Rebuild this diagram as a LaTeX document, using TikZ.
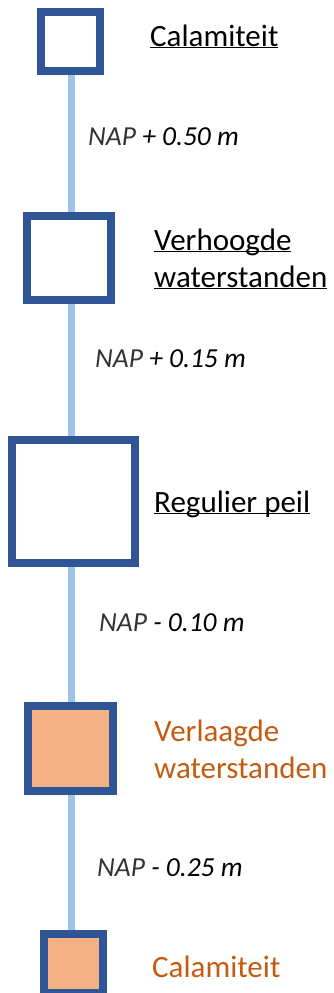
\documentclass[tikz,border=0pt]{standalone}
\usepackage{fontspec}
\setmainfont{Carlito}
\usetikzlibrary{backgrounds}

\definecolor{levelblue}{HTML}{2F5597}
\definecolor{spineblue}{HTML}{9DC3E6}
\definecolor{lowfill}{HTML}{F4B183}
\definecolor{lowtext}{HTML}{C55A11}
\definecolor{napgray}{HTML}{333333}

\newcommand\levelul[1]{\underline{\smash{#1}}}

\tikzset{
  levelbox/.style={draw=levelblue, line width=8pt, fill=white, minimum size=#1, inner sep=0pt},
  lowbox/.style={levelbox=#1, fill=lowfill},
  levellabel/.style={anchor=base west, inner sep=0pt, align=left, font=\fontsize{31}{37}\selectfont},
  naplabel/.style={anchor=base west, inner sep=0pt, font=\fontsize{27.5}{30}\selectfont\itshape},
  spine/.style={draw=spineblue, line width=7pt}
}

\begin{document}
\begin{tikzpicture}[x=1pt, y=-1pt]
\useasboundingbox (0,0) rectangle (333,993);

% Boxes
\node (cal1) at ( 70.5, 41.5 ) [levelbox=59pt] {};
\node (verh) at ( 69, 257.5 ) [levelbox=84pt] {};
\node (reg) at ( 73.5, 501 ) [levelbox=123pt] {};
\node (verl) at ( 70.5, 748.5 ) [lowbox=85pt] {};
\node (cal2) at ( 73.5, 963.5 ) [lowbox=59pt] {};

% Spine
\coordinate (axis) at ( 71, 0 );
\begin{scope}[on background layer]
\draw [spine] (cal1 -| axis) -- (verh -| axis);
\draw [spine] (verh -| axis) -- (reg -| axis);
\draw [spine] (reg -| axis) -- (verl -| axis);
\draw [spine] (verl -| axis) -- (cal2 -| axis);
\end{scope}

% Labels
\node (lcal1) at ( 150, 46 ) [levellabel] {\levelul{Calamiteit}};
\node (lverh) at ( 154, 287 ) [levellabel] {\levelul{Verhoogde}\\\levelul{waterstanden}};
\node (lreg) at ( 154, 512 ) [levellabel] {\levelul{Regulier peil}};
\node (lverl) at ( 154, 778 ) [levellabel, text=lowtext] {Verlaagde\\waterstanden};
\node (lcal2) at ( 152, 977 ) [levellabel, text=lowtext] {Calamiteit};

% Levels
\node (nap1) at ( 88, 145.5 ) [naplabel] {{\color{napgray}NAP} + 0.50 m};
\node (nap2) at ( 95, 367 ) [naplabel] {{\color{napgray}NAP} + 0.15 m};
\node (nap3) at ( 99, 631 ) [naplabel] {{\color{napgray}NAP} - 0.10 m};
\node (nap4) at ( 97, 876 ) [naplabel] {{\color{napgray}NAP} - 0.25 m};

\end{tikzpicture}
\end{document}
